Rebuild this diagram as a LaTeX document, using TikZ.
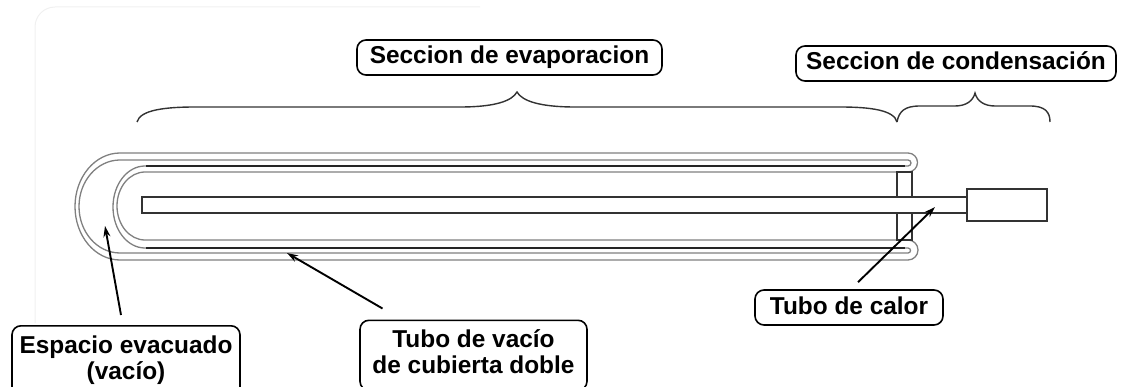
\documentclass[tikz,border=0pt]{standalone}
\usepackage{fontspec}
\setmainfont{Liberation Sans}
\usetikzlibrary{arrows.meta}
\begin{document}
\begin{tikzpicture}[x=1pt,y=-1pt,
  glass/.style={draw=black!50, line width=1.3pt},
  coat/.style={draw=black!85, line width=2pt},
  part/.style={draw=black!80, line width=1.5pt},
  bracket/.style={draw=black!80, line width=1.4pt},
  tagbase/.style={draw=black, line width=1.6pt, rounded corners=9pt, fill=white,
    font=\fontsize{24.4pt}{26pt}\selectfont\bfseries},
  tag/.style={tagbase, text height=18pt, text depth=5pt, inner ysep=6pt},
  tagml/.style={tagbase, align=center, inner ysep=9pt, anchor=north},
  pointer/.style={-{Stealth[length=11pt,width=7pt]}, line width=1.9pt}]
\useasboundingbox (0,0) rectangle (1126,387);

% faint sheet edge
\draw[black!6, line width=1pt, rounded corners=20pt] (35,323) -- (35,7) -- (480,7);

% outer surface of the double-wall glass tube
\draw[glass] (908,172) -- (145,172)
  arc[start angle=270, end angle=90, x radius=28, y radius=34]
  -- (908,240) arc[start angle=-90, end angle=90, radius=10]
  -- (120,260) arc[start angle=90, end angle=270, x radius=45, y radius=53.5]
  -- (908,153) arc[start angle=-90, end angle=90, radius=9.5] -- cycle;
% evacuated space between the walls
\draw[glass] (908,160) -- (120,160)
  arc[start angle=270, end angle=90, x radius=41, y radius=46.5]
  -- (908,253) arc[start angle=90, end angle=-90, radius=2.5]
  -- (145,248) arc[start angle=90, end angle=270, x radius=32, y radius=41]
  -- (908,166) arc[start angle=90, end angle=-90, radius=3] -- cycle;
% absorber coating on the inner tube
\draw[coat] (146,166) -- (905,166);
\draw[coat] (146,248) -- (905,248);

% end plug, heat pipe and condenser bulb
\draw[part] (897,172) rectangle (912,240);
\draw[part, fill=white] (142,197) rectangle (967,213);
\draw[part, fill=white] (967,189) rectangle (1047,221);

% section braces
\draw[bracket] (137,122) .. controls (140,110) and (165,107) .. (195,107)
  -- (460,107) .. controls (495,107) and (512,101) .. (517,92)
  .. controls (522,101) and (540,107) .. (575,107)
  -- (840,107) .. controls (870,107) and (894,110) .. (897,122);
\draw[bracket] (897,122) .. controls (899,111) and (905,106) .. (920,106)
  -- (955,106) .. controls (966,106) and (973,101) .. (975,93)
  .. controls (977,101) and (984,106) .. (995,106)
  -- (1030,106) .. controls (1045,106) and (1050,112) .. (1050,122);

% labels
\node[tag, minimum width=305pt] (evap) at (509.5,57.5) {Seccion de evaporacion};
\node[tag, minimum width=320pt] (cond) at (956,63.5) {Seccion de condensación};
\node[tag, minimum width=188pt] (calor) at (849,307.5) {Tubo de calor};
\node[tagml, minimum width=228pt] (vacio) at (126,325) {\strut Espacio evacuado\\(vacío)\strut};
\node[tagml, minimum width=227pt] (wall) at (473.5,319.5) {\strut Tubo de vacío\\de cubierta doble\strut};

% pointer targets
\coordinate (gapPt) at (105,226);
\coordinate (wallPt) at (287,253);
\coordinate (pipePt) at (935,207);

\draw[pointer] ([xshift=-5pt,yshift=10pt]vacio.north) -- (gapPt);
\draw[pointer] ([xshift=-91pt,yshift=11pt]wall.north) -- (wallPt);
\draw[pointer] ([xshift=9pt,yshift=7pt]calor.north) -- (pipePt);
\end{tikzpicture}
\end{document}
